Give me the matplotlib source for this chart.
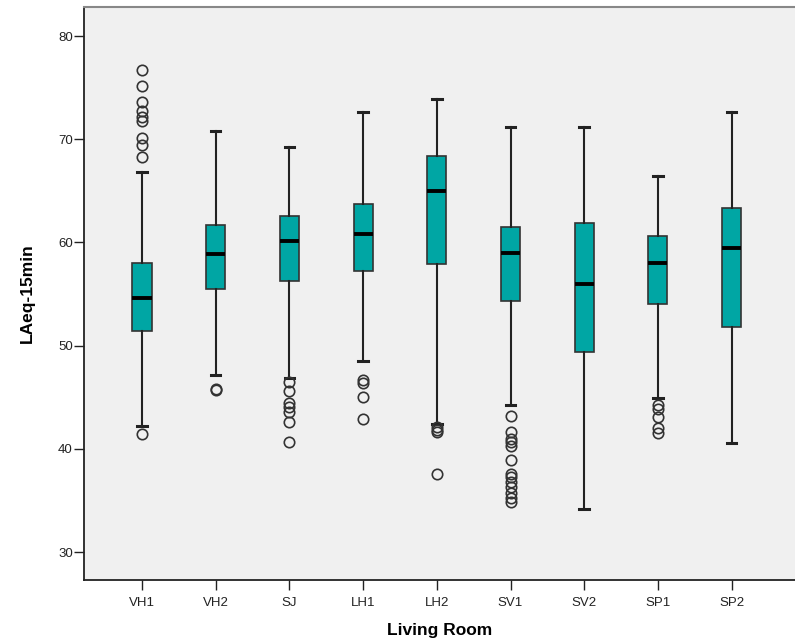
import matplotlib
matplotlib.use('Agg')
import matplotlib.pyplot as plt

plt.rcParams['font.family'] = ['Liberation Sans', 'DejaVu Sans']

rooms = ['VH1', 'VH2', 'SJ', 'LH1', 'LH2', 'SV1', 'SV2', 'SP1', 'SP2']
whis_low = [42.2, 47.2, 46.9, 48.5, 42.4, 44.2, 34.2, 44.9, 40.6]
q1 = [51.4, 55.5, 56.3, 57.2, 57.9, 54.3, 49.4, 54.0, 51.8]
medians = [54.6, 58.9, 60.1, 60.8, 65.0, 59.0, 56.0, 58.0, 59.5]
q3 = [58.0, 61.7, 62.6, 63.7, 68.4, 61.5, 61.9, 60.6, 63.3]
whis_high = [66.8, 70.8, 69.2, 72.6, 73.9, 71.2, 71.2, 66.4, 72.6]
outliers = [
    [76.7, 75.2, 73.6, 72.7, 72.2, 71.8, 70.1, 69.4, 68.3, 41.4],
    [45.8, 45.7],
    [46.5, 45.6, 44.4, 44.1, 43.6, 42.6, 40.7],
    [46.7, 46.4, 45.0, 42.9],
    [42.1, 41.8, 41.6, 37.6],
    [43.2, 41.6, 41.0, 40.7, 40.3, 38.9, 37.6, 37.3, 36.8, 36.3, 35.7, 35.2, 34.8],
    [],
    [44.2, 43.9, 43.1, 42.0, 41.5],
    [],
]


def main():
    stats = []
    for i in range(len(rooms)):
        stats.append({'label': rooms[i], 'whislo': whis_low[i], 'q1': q1[i],
                      'med': medians[i], 'q3': q3[i], 'whishi': whis_high[i],
                      'fliers': outliers[i]})

    fig = plt.figure(figsize=(7.95, 6.43), dpi=100)
    ax = fig.add_axes([84 / 795, 63 / 643, 711 / 795, 573.5 / 643])
    ax.set_facecolor('#f0f0f0')

    ax.bxp(stats, positions=range(1, len(rooms) + 1), widths=0.26,
           patch_artist=True,
           boxprops=dict(facecolor='#00a6a4', edgecolor='#333333', linewidth=1.2),
           medianprops=dict(color='black', linewidth=2.8),
           whiskerprops=dict(color='#222222', linewidth=1.5),
           capprops=dict(color='#222222', linewidth=2.2),
           capwidths=0.13,
           flierprops=dict(marker='o', markerfacecolor='none', markeredgecolor='#333333',
                           markersize=7.5, markeredgewidth=1.2))

    ax.set_xlim(0.213, 9.86)
    ax.set_ylim(27.29, 82.86)
    ax.set_yticks([30, 40, 50, 60, 70, 80])
    ax.set_xticks(range(1, len(rooms) + 1))
    ax.set_xticklabels(rooms)

    for s in ['left', 'bottom']:
        ax.spines[s].set_color('#222222')
        ax.spines[s].set_linewidth(1.3)
    ax.spines['top'].set_color('#888888')
    ax.spines['top'].set_linewidth(1.5)
    ax.spines['right'].set_visible(False)

    ax.tick_params(axis='both', direction='out', length=7, width=1, color='#222222',
                   labelsize=9.5, labelcolor='#222222')
    ax.tick_params(axis='y', pad=1)
    ax.tick_params(axis='x', pad=5)

    ax.set_ylabel('LAeq-15min', fontsize=12.5, fontweight='bold', labelpad=17)
    ax.set_xlabel('Living Room', fontsize=12.5, fontweight='bold', labelpad=10)

    fig.savefig('out.png', dpi=100)


if __name__ == "__main__":
    main()
